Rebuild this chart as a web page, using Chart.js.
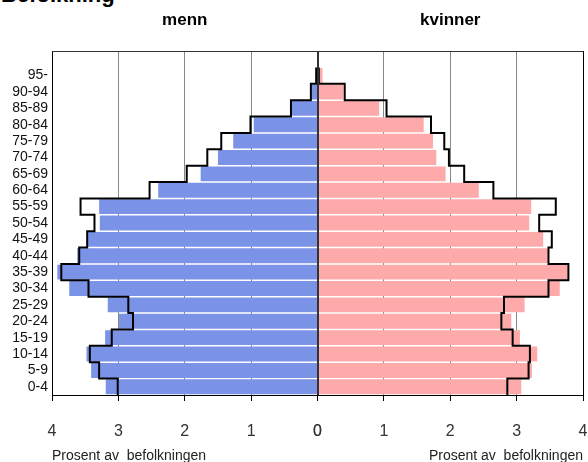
<!DOCTYPE html>
<html>
<head>
<meta charset="utf-8">
<script src="https://cdn.jsdelivr.net/npm/chart.js@4.4.1/dist/chart.umd.min.js"></script>
<style>
  body { margin: 0; width: 588px; height: 462px; overflow: hidden; background: #fff; position: relative; }
  .wrap { position: absolute; top: 0; height: 470px; }
  #leftWrap { left: 0; width: 330px; }
  #rightWrap { left: 306px; width: 282px; }
  #heading { position: absolute; left: 1px; top: -18px; font: bold 22px "Liberation Sans", Arial, sans-serif; color: #000; white-space: nowrap; }
</style>
</head>
<body>
<div id="heading">Befolkning</div>
<div class="wrap" id="leftWrap"><canvas id="menChart" width="330" height="470"></canvas></div>
<div class="wrap" id="rightWrap"><canvas id="womenChart" width="282" height="470"></canvas></div>
<script>
const ageGroups = ["0-4", "5-9", "10-14", "15-19", "20-24", "25-29", "30-34", "35-39", "40-44", "45-49",
                   "50-54", "55-59", "60-64", "65-69", "70-74", "75-79", "80-84", "85-89", "90-94", "95-"];

// share of population (%), bars = local area, outline = comparison population
const menBars = [3.19, 3.41, 3.48, 3.20, 2.99, 3.16, 3.74, 3.92, 3.62, 3.47,
                 3.28, 3.29, 2.40, 1.76, 1.50, 1.27, 0.96, 0.40, 0.10, 0.02];
const menOutline = [3.01, 3.29, 3.43, 3.10, 2.78, 2.85, 3.45, 3.86, 3.59, 3.47,
                    3.36, 3.57, 2.53, 1.97, 1.66, 1.45, 1.01, 0.40, 0.10, 0.02];
const womenBars = [3.07, 3.23, 3.31, 3.05, 2.92, 3.12, 3.65, 3.77, 3.48, 3.40,
                   3.19, 3.22, 2.43, 1.93, 1.79, 1.74, 1.60, 0.93, 0.39, 0.075];
const womenOutline = [2.86, 3.18, 3.20, 2.94, 2.77, 2.81, 3.48, 3.78, 3.48, 3.53,
                      3.34, 3.59, 2.65, 2.21, 1.98, 1.91, 1.71, 1.04, 0.41, 0.02];

const xTicks = [0, 1, 2, 3, 4];
const axisTitle = "Prosent av  befolkningen";

const fontFamily = "'Liberation Sans', Arial, sans-serif";

// vertical segment over each age band, joined at the band edges
function stepPoints(values) {
    const pts = [];
    values.forEach((v, i) => {
        pts.push({ x: v, y: i - 0.5 });
        pts.push({ x: v, y: i + 0.5 });
    });
    return pts;
}

const framePlugin = {
    id: "frame",
    afterDatasetsDraw(chart) {
        const { ctx, chartArea: a, scales: { x } } = chart;
        const zx = Math.round(x.getPixelForValue(0)) + 0.5;
        ctx.save();
        ctx.strokeStyle = "#333";
        ctx.lineWidth = 1;
        ctx.beginPath();
        ctx.moveTo(zx, a.top);
        ctx.lineTo(zx, a.bottom);
        ctx.moveTo(a.left, Math.round(a.top) + 0.5);
        ctx.lineTo(a.right, Math.round(a.top) + 0.5);
        ctx.stroke();
        ctx.restore();
    }
};

function makeChart(id, title, bars, outline, color, isLeft) {
    return new Chart(document.getElementById(id), {
        type: "bar",
        data: {
            datasets: [{
                type: "line",
                data: stepPoints(outline),
                borderColor: "#000",
                borderWidth: 2,
                pointRadius: 0,
                fill: false,
                order: 0
            }, {
                type: "bar",
                data: bars.map((v, i) => ({ x: v, y: i })),
                backgroundColor: color,
                barPercentage: 0.91,
                categoryPercentage: 1,
                order: 1
            }]
        },
        options: {
            responsive: false,
            animation: false,
            indexAxis: "y",
            layout: { padding: { left: isLeft ? 0 : 11.5, right: isLeft ? 12.5 : 5, top: 0, bottom: 0 } },
            plugins: {
                legend: { display: false },
                tooltip: { enabled: false },
                title: {
                    display: true,
                    text: title,
                    fullSize: false,
                    color: "#000",
                    font: { family: fontFamily, size: 17, weight: "bold" },
                    padding: { top: 10, bottom: 20.6 }
                },
                subtitle: {
                    display: true,
                    position: "bottom",
                    fullSize: false,
                    align: isLeft ? "start" : "end",
                    text: axisTitle,
                    color: "#222",
                    font: { family: fontFamily, size: 14 },
                    padding: { top: 7.6, bottom: 5.6 }
                }
            },
            scales: {
                x: {
                    type: "linear",
                    min: 0,
                    max: 4,
                    reverse: isLeft,
                    afterBuildTicks: axis => { axis.ticks = xTicks.map(v => ({ value: v })); },
                    afterFit: scale => {
                        scale.height = 45;
                        scale.paddingLeft = 0;
                        scale.paddingRight = 0;
                    },
                    ticks: { color: "#333", font: { family: fontFamily, size: 16 }, padding: 20.5 },
                    grid: {
                        color: ctx => ctx.tick && ctx.tick.value === 4 ? "#000" : (ctx.tick && ctx.tick.value === 0 ? "#333" : "#888"),
                        tickColor: "#000",
                        tickLength: 6
                    },
                    border: { display: true, color: "#000" }
                },
                y: {
                    type: "linear",
                    min: -0.5,
                    max: 20.5,
                    offset: false,
                    display: isLeft,
                    afterBuildTicks: axis => { axis.ticks = ageGroups.map((g, i) => ({ value: i })); },
                    afterFit: scale => { if (isLeft) scale.width = 52; },
                    ticks: {
                        color: "#111",
                        font: { family: fontFamily, size: 14 },
                        padding: 4,
                        autoSkip: false,
                        callback: v => ageGroups[v] ?? ""
                    },
                    grid: { display: false, drawTicks: false },
                    border: { display: true, color: "#000" }
                }
            }
        },
        plugins: [framePlugin]
    });
}

makeChart("menChart", "menn", menBars, menOutline, "#7b93e6", true);
makeChart("womenChart", "kvinner", womenBars, womenOutline, "#ffaaaa", false);
</script>
</body>
</html>
